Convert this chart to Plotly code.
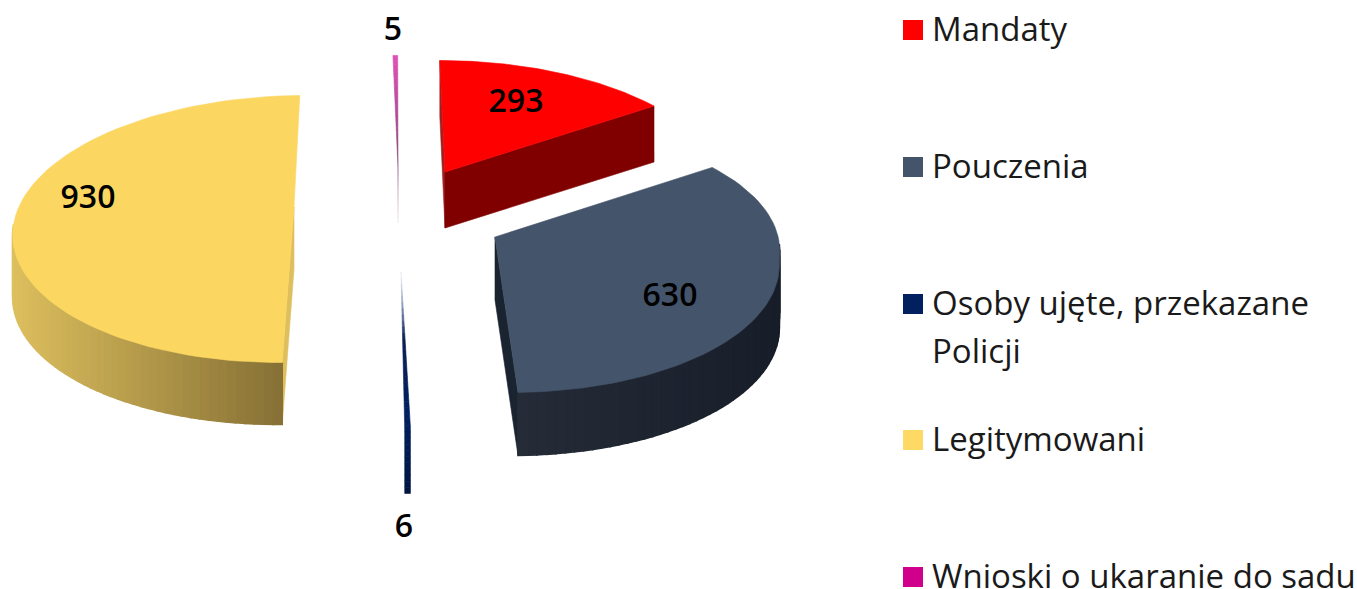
import math
import plotly.graph_objects as go

# ---- data ----
CATEGORIES = ["Mandaty", "Pouczenia", "Osoby ujęte, przekazane Policji", "Legitymowani", "Wnioski o ukaranie do sadu"]
VALUES = [293, 630, 6, 930, 5]

# ---- style ----
TOP_COLORS = ["#FF0000", "#44546A", "#002060", "#FBD762", "#D0008C"]
LEGEND_COLORS = ["#FF0000", "#44546A", "#002060", "#FFD966", "#D0008C"]
FONT = "Open Sans"
W, H = 1357, 589

# pie projection (pixels of the drawing area, which uses a 1:1 axis)
RX = [282.0, 282.0, 282.0, 279.0, 282.0]
STRETCH = [0.0, 0.055, 0.0, 0.0, 0.0]
RY, DROP = 133.5, 22.0
VP_X, SHEAR = 395.0, 0.00093
APEX = [(445, 172), (495, 237), (401, 272), (294, 207), (398, 167)]
DEPTH = [56, 63, 66, 62, 56]
LABEL_OFFSET = [(71, -71), (175, 58), (3, 254), (-206, -10), (-5, -138)]
LABEL_NUDGE_Y = 3
LEGEND_ROWS = [30, 167, 304, 440, 577]
LEGEND_TEXT_NUDGE_Y = 3
LEGEND_X_BOX, LEGEND_X_TEXT = 913, 932
SECOND_LINE_GAP = 48

total = sum(VALUES)
spans = []
a = 0.0
for v in VALUES:
    spans.append((a, a + v / total * 360.0))
    a += v / total * 360.0


def lerp(c1, c2, t):
    c1 = [int(c1[i:i + 2], 16) for i in (1, 3, 5)]
    c2 = [int(c2[i:i + 2], 16) for i in (1, 3, 5)]
    return "#%02x%02x%02x" % tuple(round(p + (q - p) * t) for p, q in zip(c1, c2))


def arc_point(i, deg):
    """Rim point of slice i at pie angle deg (clockwise from 12 o'clock)."""
    d = deg - 8.5 * math.sin(math.radians(2 * deg)) if deg < 90 else deg
    r = math.radians(d)
    ax, ay = APEX[i]
    dy = DROP - RY * math.cos(r)
    dx = RX[i] * math.sin(r) + SHEAR * (ax - VP_X) * dy
    if d < 90:
        s = 1 + STRETCH[i] * math.sin(2 * r)
        dx, dy = dx * s, dy * s
    return ax + dx, ay + dy


def angles(a0, a1, n=80):
    return [a0 + (a1 - a0) * k / n for k in range(n + 1)]


fig = go.Figure()


def poly(xs, ys, color, lw=0.6):
    fig.add_trace(go.Scatter(x=xs, y=ys, mode="lines", fill="toself", fillcolor=color,
                             line=dict(color=color, width=lw), hoverinfo="skip", showlegend=False))


def wall(i, c_left, c_right, lo=85.0, hi=272.0):
    a0, a1 = max(spans[i][0], lo), min(spans[i][1], hi)
    if a1 <= a0:
        return
    pts = [arc_point(i, t) for t in angles(a0, a1, 48)]
    xs_all = [p[0] for p in pts]
    xmin, xmax = min(xs_all), max(xs_all)
    for p, q in zip(pts[:-1], pts[1:]):
        t = ((p[0] + q[0]) / 2 - xmin) / max(xmax - xmin, 1)
        d = DEPTH[i]
        poly([p[0], q[0], q[0], p[0], p[0]], [p[1], q[1], q[1] + d, p[1] + d, p[1]], lerp(c_left, c_right, t), lw=1.6)


def cut_face(i, deg, color):
    ax, ay = APEX[i]
    ex, ey = arc_point(i, deg)
    d = DEPTH[i]
    poly([ax, ex, ex, ax, ax], [ay, ey, ey + d, ay + d, ay], color)


def top(i, color):
    ax, ay = APEX[i]
    pts = [arc_point(i, t) for t in angles(*spans[i])]
    poly([ax] + [p[0] for p in pts] + [ax], [ay] + [p[1] for p in pts] + [ay], color)


def sliver(i, stops):
    """Very thin slices are drawn as stripes that fade along their length."""
    ax, ay = APEX[i]
    p0, p1 = arc_point(i, spans[i][0]), arc_point(i, spans[i][1])
    d = DEPTH[i]
    rim_y = (p0[1] + p1[1]) / 2
    y_a, y_b = min(rim_y, ay), max(rim_y, ay) + d
    n = 36
    for k in range(n):
        t0, t1 = k / n, (k + 1) / n
        y0, y1 = y_a + (y_b - y_a) * t0, y_a + (y_b - y_a) * t1

        def span_at(y):
            u = min(abs(y - ay) / max(abs(rim_y - ay), 1), 1.0) if (y - ay) * (rim_y - ay) > 0 else 0.0
            if rim_y > ay and y > rim_y:
                u = 1.0
            return ax + (p0[0] - ax) * u, ax + (p1[0] - ax) * u
        l0, r0 = span_at(y0)
        l1, r1 = span_at(y1)
        tm = (t0 + t1) / 2
        for (s0, c0), (s1, c1) in zip(stops[:-1], stops[1:]):
            if s0 <= tm <= s1:
                col = lerp(c0, c1, (tm - s0) / (s1 - s0))
                break
        poly([l0, r0, r1, l1, l0], [y0, y0, y1, y1, y0], col)


# Yellow slice
cut_face(3, spans[3][0], "#DDBF5E")
wall(3, "#DDBF5E", "#857035")
top(3, TOP_COLORS[3])
# Navy-grey slice
cut_face(1, spans[1][1], "#1A2330")
wall(1, "#252C38", "#171E29")
top(1, TOP_COLORS[1])
# Red slice
cut_face(0, spans[0][0], "#A02020")
cut_face(0, spans[0][1], "#800000")
top(0, TOP_COLORS[0])
# Thin slices
sliver(4, [(0, "#E050B8"), (0.35, "#B34C98"), (0.6, "#8A4A78"), (0.8, "#C8A8BE"), (1, "#F2ECF0")])
sliver(2, [(0, "#F0F2F6"), (0.15, "#8C9CBC"), (0.3, "#0A1F55"), (0.65, "#002060"), (1, "#00153F")])

# Value labels
fig.add_trace(go.Scatter(
    x=[APEX[i][0] + LABEL_OFFSET[i][0] for i in range(5)],
    y=[APEX[i][1] + LABEL_OFFSET[i][1] + LABEL_NUDGE_Y for i in range(5)],
    mode="text", text=[str(v) for v in VALUES], textposition="middle center",
    textfont=dict(family=FONT, size=32, color="#000000", weight=600),
    hoverinfo="skip", showlegend=False, cliponaxis=False))

# Legend
fig.add_trace(go.Scatter(
    x=[LEGEND_X_BOX] * 5, y=LEGEND_ROWS, mode="markers",
    marker=dict(symbol="square", size=20, color=LEGEND_COLORS, line=dict(width=0)),
    hoverinfo="skip", showlegend=False, cliponaxis=False))
legend_x, legend_y, legend_t = [], [], []
for row, name in zip(LEGEND_ROWS, CATEGORIES):
    if "przekazane " in name:
        first, second = name.split("przekazane ")
        legend_x += [LEGEND_X_TEXT, LEGEND_X_TEXT]
        legend_y += [row + LEGEND_TEXT_NUDGE_Y, row + LEGEND_TEXT_NUDGE_Y + SECOND_LINE_GAP]
        legend_t += [first + "przekazane", second]
    else:
        legend_x.append(LEGEND_X_TEXT)
        legend_y.append(row + LEGEND_TEXT_NUDGE_Y)
        legend_t.append(name)
fig.add_trace(go.Scatter(
    x=legend_x, y=legend_y, mode="text", text=legend_t, textposition="middle right",
    textfont=dict(family=FONT, size=33, color="#1a1a1a"),
    hoverinfo="skip", showlegend=False, cliponaxis=False))

fig.update_layout(
    width=W, height=H, autosize=False, margin=dict(l=0, r=0, t=0, b=0),
    paper_bgcolor="#FFFFFF", plot_bgcolor="#FFFFFF", showlegend=False,
    xaxis=dict(range=[0, W], visible=False, fixedrange=True),
    yaxis=dict(range=[H, 0], visible=False, fixedrange=True),
)
fig.write_html("out.html", config=dict(displayModeBar=False),
               post_script='document.body.style.margin="0";document.body.style.overflow="hidden";')
